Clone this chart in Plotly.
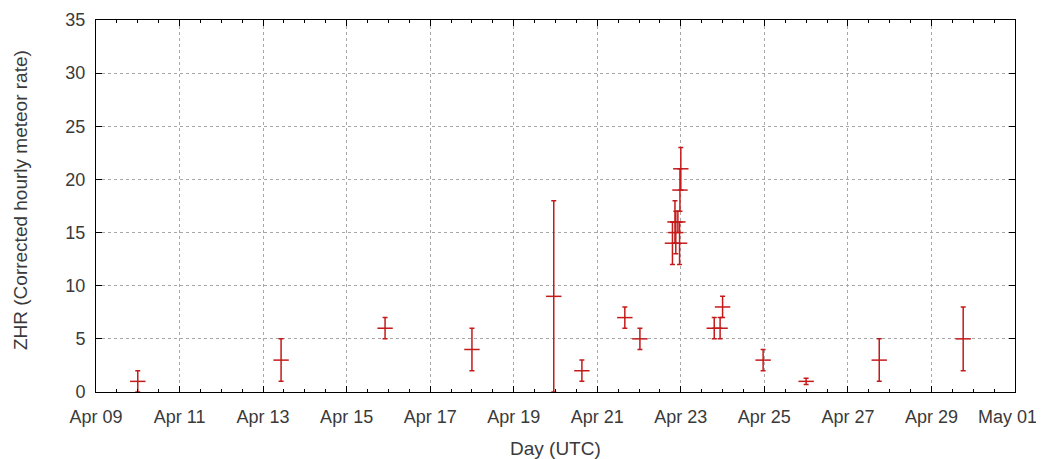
import plotly.graph_objects as go

# ---- data ----
times = [
    "2013-04-10 00:00", "2013-04-13 10:20", "2013-04-15 22:05", "2013-04-18 00:00",
    "2013-04-19 23:00", "2013-04-20 15:10", "2013-04-21 15:50", "2013-04-22 00:30",
    "2013-04-22 19:12", "2013-04-22 20:38", "2013-04-22 21:07", "2013-04-22 22:19",
    "2013-04-22 23:17", "2013-04-22 23:30", "2013-04-23 00:00",
    "2013-04-23 19:12", "2013-04-23 22:34", "2013-04-24 00:00",
    "2013-04-24 23:17", "2013-04-26 00:00", "2013-04-27 18:00", "2013-04-29 18:14",
]
zhr = [1, 3, 6, 4, 9, 2, 7, 5, 14, 16, 15, 16, 14, 19, 21, 6, 6, 8, 3, 1, 3, 5]
zhr_low = [0, 1, 5, 2, 0, 1, 6, 4, 12, 14, 13, 15, 12, 17, 19, 5, 5, 7, 2, 0.7, 1, 2]
zhr_high = [2, 5, 7, 6, 18, 3, 8, 6, 16, 18, 17, 17, 16, 21, 23, 7, 7, 9, 4, 1.3, 5, 8]

x_tick_vals = ["2013-04-09", "2013-04-11", "2013-04-13", "2013-04-15", "2013-04-17",
               "2013-04-19", "2013-04-21", "2013-04-23", "2013-04-25", "2013-04-27",
               "2013-04-29", "2013-05-01"]
x_tick_labels = ["Apr 09", "Apr 11", "Apr 13", "Apr 15", "Apr 17", "Apr 19",
                 "Apr 21", "Apr 23", "Apr 25", "Apr 27", "Apr 29", "May 01"]

x_range = ["2013-04-09", "2013-05-01"]
y_range = [0, 35]
x_title = "Day (UTC)"
y_title = "ZHR (Corrected hourly meteor rate)"

err_plus = [h - v for h, v in zip(zhr_high, zhr)]
err_minus = [v - l for v, l in zip(zhr, zhr_low)]

# last label sits at the window edge: pad it so it stays inside the page
tick_text = list(x_tick_labels)
tick_text[-1] = tick_text[-1] + "\u00a0\u00a0\u00a0"

RED = "#c41a1a"
TXT = "#3a3a3a"
FONT = "Liberation Sans, Arial, sans-serif"
FS = 19
TFS = 18

fig = go.Figure()
fig.add_trace(go.Scatter(
    x=times, y=zhr, mode="markers",
    marker=dict(symbol="line-ew", size=11, color=RED, line=dict(color=RED, width=1.5)),
    error_y=dict(type="data", symmetric=False, array=err_plus, arrayminus=err_minus,
                 color=RED, thickness=1.5, width=2.5),
    showlegend=False,
    cliponaxis=False,
))

DAY = 86400000
# page body has an 8px margin, so the figure is sized to fit the 1044x459 window
fig.update_layout(
    width=1036, height=451,
    margin=dict(l=88, r=29, t=12, b=67, autoexpand=False),
    paper_bgcolor="white", plot_bgcolor="white",
    font=dict(family=FONT, size=FS, color=TXT),
    xaxis=dict(
        type="date", range=x_range, automargin=False,
        tickmode="array", tickvals=x_tick_vals, ticktext=tick_text,
        ticks="inside", ticklen=6, tickcolor="black", tickwidth=1,
        showline=True, linecolor="black", linewidth=1, mirror="ticks",
        showgrid=True, gridcolor="#a8a8a8", griddash="3px,3px", gridwidth=1,
        zeroline=False,
        minor=dict(tickmode="linear", dtick=DAY / 2, tick0="2013-04-09",
                   ticks="inside", ticklen=3, tickcolor="black", showgrid=False),
        tickfont=dict(size=TFS, color=TXT),
        ticklabelstandoff=8,
        ticklabeloverflow="allow",
    ),
    yaxis=dict(
        range=y_range, dtick=5, automargin=False,
        ticks="inside", ticklen=6, tickcolor="black", tickwidth=1,
        showline=True, linecolor="black", linewidth=1, mirror="ticks",
        showgrid=True, gridcolor="#a8a8a8", griddash="3px,3px", gridwidth=1,
        zeroline=False,
        tickfont=dict(size=TFS, color=TXT),
        ticklabelstandoff=6,
        ticklabeloverflow="allow",
    ),
    annotations=[
        dict(text=x_title, xref="paper", yref="paper", x=0.5, y=0,
             xanchor="center", yanchor="middle", yshift=-56, showarrow=False,
             font=dict(size=FS, color=TXT)),
        dict(text=y_title, xref="paper", yref="paper", x=0, y=0.516,
             xanchor="center", yanchor="middle", xshift=-76, textangle=-90,
             showarrow=False, font=dict(size=FS, color=TXT)),
    ],
)

fig.write_html("out.html")
